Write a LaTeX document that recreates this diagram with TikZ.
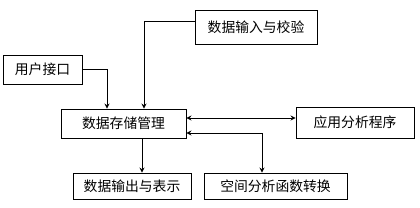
\documentclass[tikz,border=0pt]{standalone}
\usepackage{fontspec}
\usepackage{tikz}
\usetikzlibrary{arrows.meta,positioning,calc}
\newfontfamily\cjk{Noto Sans CJK SC}
\tikzset{
  dsbox/.style={draw,line width=0.9pt,inner sep=0pt,align=center,
    font=\cjk\fontsize{13.8}{15}\selectfont},
  dsflow/.style={-{Stealth[length=5pt,width=5pt]},line width=0.9pt},
  dsboth/.style={{Stealth[length=5pt,width=5pt]}-{Stealth[length=5pt,width=5pt]},line width=0.9pt},
}
\begin{document}
\begin{tikzpicture}[x=1pt,y=-1pt]
\useasboundingbox (0,0) rectangle (420,208);
% Top: sources feeding the store
\node[dsbox,minimum width=79pt,minimum height=29pt] (user) at (42.5,69.5) {用户接口};
\node[dsbox,minimum width=122pt,minimum height=34pt] (input) at (256,27) {数据输入与校验};
% Middle: the store and the analysis program
\node[dsbox,minimum width=125pt,minimum height=29pt] (store) at (123.5,123.5) {数据存储管理};
\node[dsbox,minimum width=118pt,minimum height=31pt] (app) at (355,122.5) {应用分析程序};
% Bottom row: outputs
\node[dsbox,minimum width=118pt,minimum height=26pt] (out) at (132,186) {数据输出与表示};
\node[dsbox,minimum width=143pt,minimum height=26pt] (spat) at (275.5,186) {空间分析函数转换};
\draw[dsflow] (user.east) -| ([xshift=-16.5pt]store.north);
\draw[dsflow] ([yshift=6pt]input.west) -| ([xshift=20.5pt]store.north);
\draw[dsboth] ([yshift=5.5pt]store.east) -- ([yshift=5.5pt]store.east -| app.west);
\draw[dsboth] ([yshift=-9.5pt]store.east) -| ([xshift=-13.5pt]spat.north);
\draw[dsflow] ([xshift=18.5pt]store.south) -- ([xshift=10pt]out.north);
\end{tikzpicture}
\end{document}
